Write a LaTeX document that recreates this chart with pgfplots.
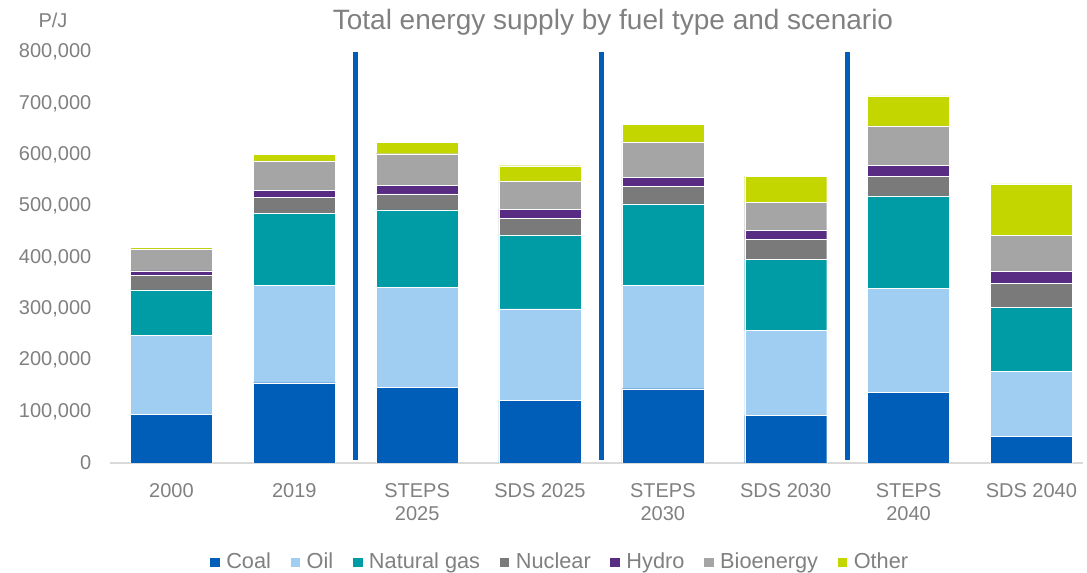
\documentclass[border=0pt]{standalone}
\usepackage{pgfplots}
\pgfplotsset{compat=1.18}
\usepackage{fontspec}
\setmainfont{Liberation Sans}

\definecolor{coal}{RGB}{0,94,184}
\definecolor{oil}{RGB}{159,206,242}
\definecolor{gas}{RGB}{0,156,166}
\definecolor{nuclear}{RGB}{122,122,122}
\definecolor{hydro}{RGB}{88,44,131}
\definecolor{bio}{RGB}{165,165,165}
\definecolor{other}{RGB}{196,214,0}
\definecolor{txt}{RGB}{128,128,128}
\definecolor{axisline}{RGB}{217,217,217}

\begin{document}
\begin{tikzpicture}[x=1pt,y=1pt]
\begin{axis}[
    name=main,
    scale only axis,
    width=729.75pt, height=308.25pt,
    ybar stacked,
    bar width=61.5pt,
    xmin=-0.5, xmax=7.42,
    ymin=0, ymax=800000,
    xtick=data,
    xticklabels={2000,2019,{STEPS\\2025},SDS 2025,{STEPS\\2030},SDS 2030,{STEPS\\2040},SDS 2040},
    xticklabel style={align=center, font=\fontsize{15}{17.2}\selectfont, text=txt, yshift=-12pt},
    ytick={0,100000,...,800000},
    yticklabel style={font=\fontsize{15}{18}\selectfont, text=txt, xshift=-10.5pt},
    scaled y ticks=false,
    /pgf/number format/.cd, fixed, 1000 sep={,}, assume math mode=true,
    /pgfplots/.cd,
    axis lines*=left,
    x axis line style={draw=axisline, line width=1pt},
    y axis line style={draw=none},
    major tick length=0pt,
    every tick/.style={draw=none},
    legend columns=7,
    legend style={draw=none, at={(0.4625,-0.241)}, anchor=center,
        font=\fontsize{16.3}{19}\selectfont, text=txt,
        /tikz/every odd column/.append style={column sep=2.5pt},
        /tikz/every even column/.append style={column sep=12pt}},
    legend image code/.code={\fill[#1] (0pt,-4pt) rectangle (8pt,4pt);},
    every axis plot/.append style={draw=white, line width=0.3pt},
]
% values in P/J, stacked from the bottom
\addplot[fill=coal] coordinates {(0,95100) (1,156300) (2,147200) (3,121800) (4,144600) (5,92600) (6,137400) (7,52200)};
\addplot[fill=oil] coordinates {(0,154000) (1,189700) (2,194300) (3,178000) (4,200800) (5,165700) (6,202200) (7,126200)};
\addplot[fill=gas] coordinates {(0,87700) (1,139800) (2,151300) (3,144300) (4,159100) (5,138400) (6,180500) (7,124100)};
\addplot[fill=nuclear] coordinates {(0,28700) (1,31200) (2,31200) (3,32500) (4,34500) (5,38400) (6,37800) (7,47400)};
\addplot[fill=hydro] coordinates {(0,8400) (1,14200) (2,16300) (3,16900) (4,17500) (5,18100) (6,21400) (7,23400)};
\addplot[fill=bio] coordinates {(0,42900) (1,57100) (2,61700) (3,55800) (4,68800) (5,54600) (6,76700) (7,70200)};
\addplot[fill=other] coordinates {(0,3200) (1,13100) (2,22800) (3,29300) (4,33200) (5,50700) (6,58400) (7,100000)};
\legend{Coal,Oil,Natural gas,Nuclear,Hydro,Bioenergy,Other}
% scenario separators
\draw[coal, line width=3.75pt] (axis cs:1.5,6000) -- (axis cs:1.5,800000);
\draw[coal, line width=3.75pt] (axis cs:3.5,6000) -- (axis cs:3.5,800000);
\draw[coal, line width=3.75pt] (axis cs:5.5,6000) -- (axis cs:5.5,800000);
\end{axis}
\node[txt, font=\fontsize{21}{25}\selectfont] at (377.25pt,330.75pt) {Total energy supply by fuel type and scenario};
\node[txt, font=\fontsize{15}{18}\selectfont] at (-42.75pt,332.25pt) {P/J};
\pgfresetboundingbox
\useasboundingbox (-82.5pt,-82.5pt) rectangle (732.75pt,347.25pt);
\end{tikzpicture}
\end{document}
